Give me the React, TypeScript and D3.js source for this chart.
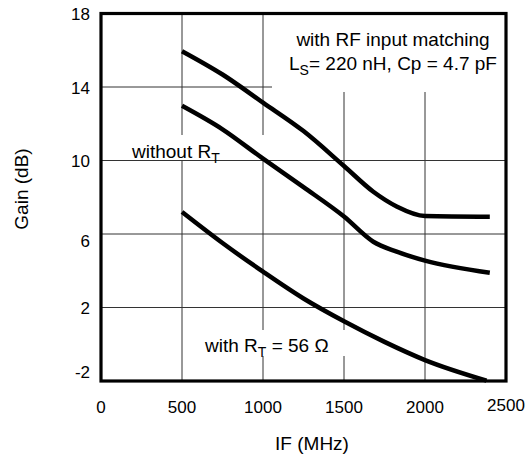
import * as d3 from "d3";
import React from "react";

// IF frequency (MHz) and gain (dB)
const freqTop = [500, 750, 1000, 1250, 1500, 1681, 1825, 2000, 2400];
const gainMatched = [15.95, 14.68, 13.15, 11.6, 9.7, 8.3, 7.5, 6.98, 6.94];

const freqMid = [500, 750, 1000, 1250, 1500, 1681, 1825, 2000, 2400];
const gainWithoutRt = [12.98, 11.7, 10.1, 8.55, 6.95, 5.58, 5.04, 4.55, 3.89];

const freqLow = [500, 750, 1000, 1250, 1500, 1750, 2000, 2380];
const gainWithRt = [7.2, 5.51, 3.95, 2.49, 1.25, 0.13, -0.86, -1.98];

const xTicks = [0, 500, 1000, 1500, 2000, 2500];
const yTicks = [-2, 2, 6, 10, 14, 18];
const xGrid = [500, 1000, 1500, 2000];
const yGrid = [2, 6, 10, 14];

const FONT = "'Liberation Sans', Arial, sans-serif";

export default function App(): React.ReactElement {
  const width = 530;
  const height = 458;

  const x = d3.scaleLinear().domain([0, 2500]).range([101, 506]);
  const y = d3.scaleLinear().domain([-2, 18]).range([381, 13.5]);

  // monotone keeps the flat tail of the top curve flat
  const line = d3
    .line<[number, number]>()
    .x((d) => x(d[0]))
    .y((d) => y(d[1]))
    .curve(d3.curveMonotoneX);

  const series = [
    d3.zip(freqTop, gainMatched) as [number, number][],
    d3.zip(freqMid, gainWithoutRt) as [number, number][],
    d3.zip(freqLow, gainWithRt) as [number, number][],
  ];

  return (
    <svg
      width={width}
      height={height}
      style={{ position: "absolute", left: 0, top: 0, background: "#fff" }}
      fontFamily={FONT}
    >
      {/* grid */}
      {xGrid.map((t) => (
        <line key={`xg-${t}`} x1={x(t)} x2={x(t)} y1={y(18)} y2={y(-2)} stroke="#333" strokeWidth={1} />
      ))}
      {yGrid.map((t) => (
        <line
          key={`yg-${t}`}
          x1={x(0)}
          x2={t === 14 ? 272 : x(2500)}
          y1={y(t)}
          y2={y(t)}
          stroke="#333"
          strokeWidth={1}
        />
      ))}

      {/* white backgrounds behind the labels */}
      <rect x={272} y={15} width={233} height={77} fill="#fff" />
      <rect x={122} y={135} width={148} height={25} fill="#fff" />
      <rect x={200} y={330} width={146} height={26} fill="#fff" />

      {/* curves */}
      {series.map((s, i) => (
        <path key={`c-${i}`} d={line(s) ?? ""} fill="none" stroke="#000" strokeWidth={4.5} />
      ))}

      {/* frame */}
      <rect
        x={x(0)}
        y={y(18)}
        width={x(2500) - x(0)}
        height={y(-2) - y(18)}
        fill="none"
        stroke="#000"
        strokeWidth={3.2}
      />

      {/* x ticks */}
      {xTicks.map((t) => (
        <text
          key={`xt-${t}`}
          x={x(t)}
          y={t === 2500 ? 411 : 413}
          fontSize={17}
          textAnchor="middle"
        >
          {t}
        </text>
      ))}

      {/* y ticks */}
      {yTicks.map((t) => (
        <text
          key={`yt-${t}`}
          x={90}
          y={y(t) + (t === -2 ? -9 : t === 6 ? 7 : 1)}
          fontSize={17}
          textAnchor="end"
          dominantBaseline="central"
        >
          {t}
        </text>
      ))}

      {/* axis titles */}
      <text x={312} y={450} fontSize={19} textAnchor="middle">
        IF (MHz)
      </text>
      <text
        transform="translate(28,189) rotate(-90)"
        fontSize={19}
        textAnchor="middle"
      >
        Gain (dB)
      </text>

      {/* annotations */}
      <text x={393} y={46} fontSize={19} textAnchor="middle">
        with RF input matching
      </text>
      <text x={393} y={70} fontSize={19} textAnchor="middle">
        L<tspan fontSize={14} dy={5}>S</tspan>
        <tspan dy={-5}>= 220 nH, Cp = 4.7 pF</tspan>
      </text>
      <text x={132} y={158} fontSize={19}>
        without R<tspan fontSize={14} dy={5}>T</tspan>
      </text>
      <text x={205} y={352} fontSize={19}>
        with R<tspan fontSize={14} dy={5}>T</tspan>
        <tspan dy={-5}> = 56 Ω</tspan>
      </text>
    </svg>
  );
}
